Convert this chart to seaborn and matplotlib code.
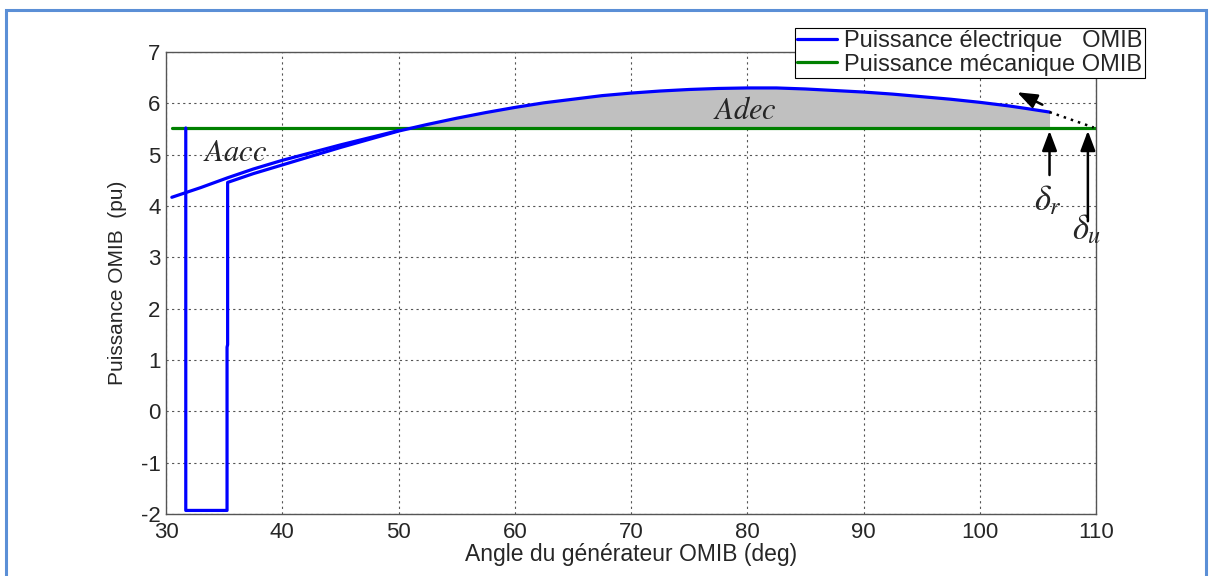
import numpy as np
import pandas as pd
import matplotlib
matplotlib.use("Agg")
import matplotlib.pyplot as plt
import seaborn as sns
from matplotlib.patches import Rectangle

# ---- data ----
traj_delta = [31.7, 31.7, 35.25, 35.25, 35.3, 35.3, 37.5, 40, 42.5, 45, 47.5, 50, 52.5, 55, 57.5,
              60, 62.5, 65, 67.5, 70, 72.5, 75, 77.5, 80, 82.5, 85, 87.5, 90, 92.5, 95, 97.5,
              100, 102.5, 104, 106]
traj_power = [5.52, -1.93, -1.93, 1.25, 1.3, 4.46, 4.63, 4.8, 4.97, 5.14, 5.3, 5.46, 5.59, 5.71, 5.82,
              5.92, 6.01, 6.08, 6.15, 6.2, 6.24, 6.27, 6.29, 6.3, 6.3, 6.28, 6.25, 6.22, 6.18, 6.13, 6.08,
              6.02, 5.95, 5.9, 5.83]
curve_delta = [30.5, 33, 35.3, 37.5, 40, 42.5, 45, 47.5, 50]
curve_power = [4.17, 4.36, 4.55, 4.72, 4.89, 5.04, 5.19, 5.33, 5.47]
mech_delta = [30.5, 110]
mech_power = [5.52, 5.52]
extrap_delta = [106, 109.8]
extrap_power = [5.83, 5.53]

sns.set_style("white")
plt.rcParams["font.family"] = ["Liberation Sans", "DejaVu Sans"]
plt.rcParams["mathtext.fontset"] = "stix"
plt.rcParams["axes.unicode_minus"] = False

fig = plt.figure(figsize=(12.1, 5.76), dpi=100)
ax = fig.add_axes([0.1372, 0.1076, 0.7686, 0.8021])

# figure border
fig.patches.append(Rectangle((6/1210, -0.05), 1200/1210, 1 - 10/576 + 0.05,
                             transform=fig.transFigure, fill=False,
                             edgecolor="#5b8fd6", linewidth=2.2, clip_on=False))

df_traj = pd.DataFrame({"delta": traj_delta, "P": traj_power})
df_curve = pd.DataFrame({"delta": curve_delta, "P": curve_power})
df_mech = pd.DataFrame({"delta": mech_delta, "P": mech_power})

# shaded decelerating area
td = np.array(traj_delta[5:])
tp = np.array(traj_power[5:])
ax.fill_between(td, tp, 5.52, where=tp >= 5.52, interpolate=True,
                color="#c0c0c0", zorder=1, linewidth=0)

sns.lineplot(data=df_traj, x="delta", y="P", sort=False, estimator=None, ax=ax,
             color="#0000ff", linewidth=2.3, label="Puissance électrique   OMIB", zorder=3)
sns.lineplot(data=df_curve, x="delta", y="P", sort=False, estimator=None, ax=ax,
             color="#0000ff", linewidth=2.3, legend=False, zorder=3)
sns.lineplot(data=df_mech, x="delta", y="P", sort=False, estimator=None, ax=ax,
             color="#008000", linewidth=2.3, label="Puissance mécanique OMIB", zorder=2)
ax.plot(extrap_delta, extrap_power, color="black", linestyle=(0, (1, 2)), linewidth=1.8, zorder=3)

# arrows
arrowprops = dict(arrowstyle="-|>,head_width=0.45,head_length=1.2", color="black", lw=1.8)
ax.annotate("", xy=(103.0, 6.24), xytext=(105.6, 5.95), arrowprops=arrowprops, zorder=4)
ax.annotate("", xy=(106.0, 5.52), xytext=(106.0, 4.55), arrowprops=arrowprops, zorder=4)
ax.annotate("", xy=(109.3, 5.52), xytext=(109.3, 3.65), arrowprops=arrowprops, zorder=4)

ax.text(105.9, 4.12, r"$\delta_r$", fontsize=25, ha="center", va="center")
ax.text(109.2, 3.55, r"$\delta_u$", fontsize=25, ha="center", va="center")
ax.text(35.9, 5.04, r"$Aacc$", fontsize=22, ha="center", va="center")
ax.text(79.8, 5.85, r"$Adec$", fontsize=22, ha="center", va="center")

ax.set_xlim(30, 110)
ax.set_ylim(-2, 7)
ax.set_xticks(range(30, 111, 10))
ax.set_yticks(range(-2, 8, 1))
ax.tick_params(direction="in", length=5, labelsize=16, color="#444444", pad=4)
ax.tick_params(axis="x", pad=6)
ax.grid(True, linestyle=(0, (2, 3)), color="#555555", linewidth=0.8)
for s in ax.spines.values():
    s.set_color("#555555")
    s.set_linewidth(1.0)
ax.set_xlabel("Angle du générateur OMIB (deg)", fontsize=16.5, labelpad=0)
ax.set_ylabel("Puissance OMIB  (pu)", fontsize=15, labelpad=10)

leg = ax.legend(loc="upper right", bbox_to_anchor=(1145/1210, 1 - 28/576),
                bbox_transform=fig.transFigure, fontsize=17, frameon=True,
                fancybox=False, framealpha=1, edgecolor="black", borderpad=0.1,
                handlelength=1.7, handletextpad=0.3, labelspacing=0.05, borderaxespad=0)
leg.get_frame().set_linewidth(0.8)

fig.savefig("out.png", dpi=100)
